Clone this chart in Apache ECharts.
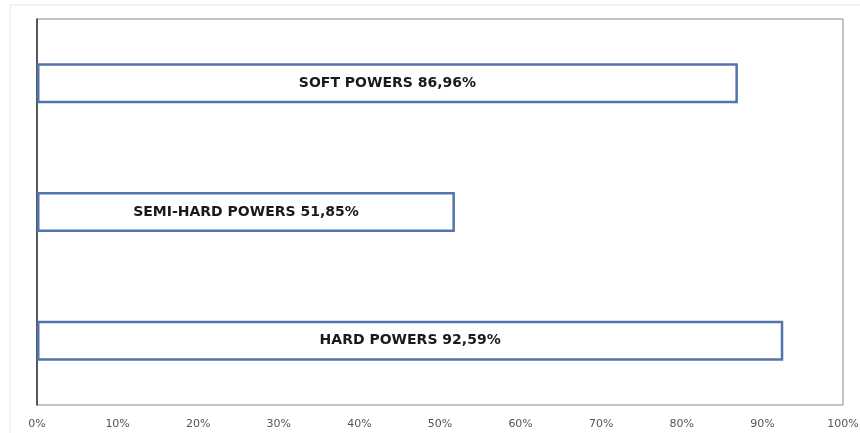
<!DOCTYPE html>
<html>
<head>
<meta charset="utf-8">
<script src="https://cdn.jsdelivr.net/npm/echarts@6/dist/echarts.min.js"></script>
<style>
  html, body { margin: 0; padding: 0; background: #fff; }
  #chart { width: 860px; height: 433px; }
</style>
</head>
<body>
<div id="chart"></div>
<script>
// categories listed bottom to top
const categories = ["HARD POWERS", "SEMI-HARD POWERS", "SOFT POWERS"];
const values = [92.59, 51.85, 86.96];
const xTicks = [0, 10, 20, 30, 40, 50, 60, 70, 80, 90, 100];

const chart = echarts.init(document.getElementById("chart"));
chart.setOption({
  backgroundColor: "#fff",
  animation: false,
  graphic: [
    {
      type: "rect",
      shape: { x: 10, y: 5, width: 870, height: 440 },
      style: { fill: "none", stroke: "#e6e6e6", lineWidth: 1 },
      silent: true,
    },
  ],
  grid: {
    show: true,
    left: 37,
    right: 17,
    top: 19,
    bottom: 28,
    outerBoundsMode: "none",
    borderColor: "#8c8c8c",
    borderWidth: 1,
    backgroundColor: "#fff",
  },
  xAxis: {
    type: "value",
    min: 0,
    max: 100,
    interval: 10,
    axisLine: { show: false },
    axisTick: { show: false },
    splitLine: { show: false },
    axisLabel: {
      margin: 14,
      color: "#555",
      fontFamily: "DejaVu Sans",
      fontSize: 11,
      formatter: (v) => (xTicks.includes(v) ? v + "%" : ""),
    },
  },
  yAxis: {
    type: "category",
    data: categories,
    axisLine: { show: true, lineStyle: { color: "#333", width: 1.5 } },
    axisTick: { show: false },
    axisLabel: { show: false },
    splitLine: { show: false },
  },
  series: [
    {
      type: "bar",
      data: values,
      barWidth: 40,
      itemStyle: {
        color: "#fff",
        borderColor: "#5274ad",
        borderWidth: 2.5,
      },
      label: {
        show: true,
        position: "inside",
        color: "#1a1a1a",
        fontFamily: "DejaVu Sans",
        fontWeight: "bold",
        fontSize: 14,
        formatter: (p) => p.name + " " + p.value.toFixed(2).replace(".", ",") + "%",
      },
    },
  ],
});
</script>
</body>
</html>
